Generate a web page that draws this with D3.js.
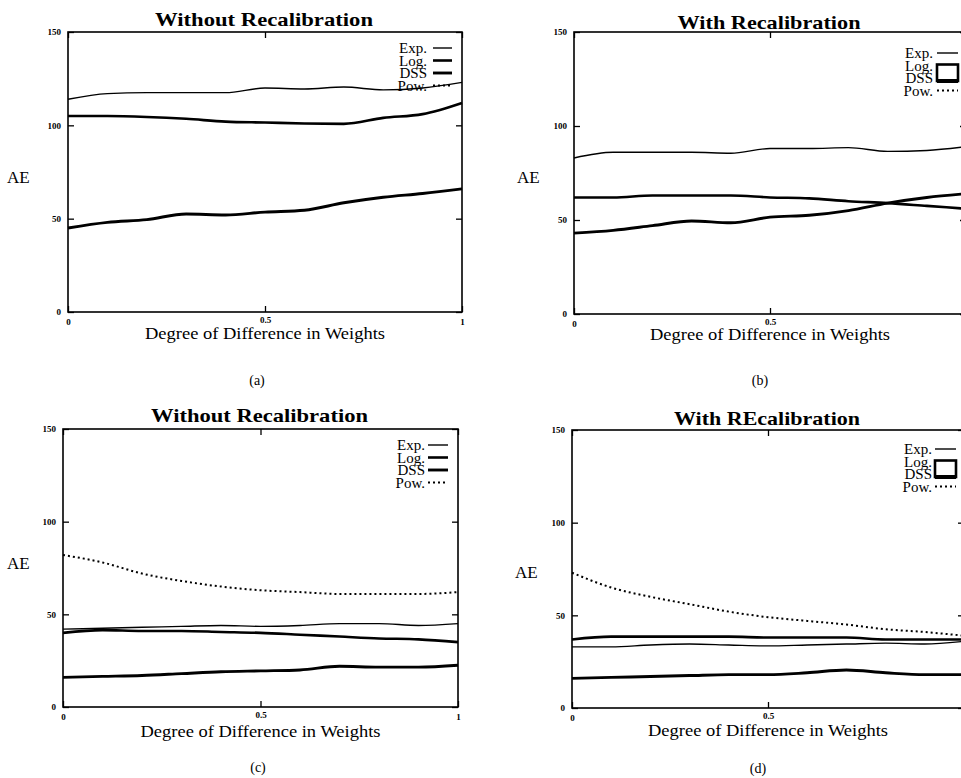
<!DOCTYPE html>
<html>
<head>
<meta charset="utf-8">
<script src="https://cdn.jsdelivr.net/npm/d3@7"></script>
<style>
  body { margin: 0; background: #fff; }
  text { font-family: "Liberation Serif", "DejaVu Serif", serif; fill: #000; }
</style>
</head>
<body>
<div id="chart"></div>
<script>
// x positions (degree of difference in weights)
const xs = [0, 0.1, 0.2, 0.3, 0.4, 0.5, 0.6, 0.7, 0.8, 0.9, 1];
const yTicks = [0, 50, 100, 150];
const xTicks = [0, 0.5, 1];
const seriesNames = ["Exp.", "Log.", "DSS", "Pow."];

// (a) without recalibration
const expA = [114, 117, 117.5, 117.5, 117.5, 120, 119.5, 120.5, 119, 120, 123];
const logA = [105, 105, 104.5, 103.5, 102, 101.5, 101, 100.8, 104, 106, 112];
const dssA = [45, 48, 49.5, 52.5, 52, 53.5, 54.5, 58.5, 61.5, 63.5, 66];
// (b) with recalibration
const expB = [83, 86, 86, 86, 85.5, 88, 88, 88.5, 86.5, 87, 89];
const logB = [62, 62, 63, 63, 63, 62, 61.5, 60, 59, 57.5, 56];
const dssB = [43, 44.5, 47, 49.5, 48.5, 51.5, 52.5, 55, 59, 62, 64];
// (c) without recalibration
const expC = [42, 42.5, 43, 43.5, 44, 43.5, 44, 45, 45, 44, 45];
const logC = [40, 41.5, 41, 41, 40.5, 40, 39, 38, 37, 36.5, 35];
const dssC = [16, 16.5, 17, 18, 19, 19.5, 20, 22, 21.5, 21.5, 22.5];
const powC = [82, 78, 72, 68, 65, 63, 62, 61, 61, 61, 62];
// (d) with recalibration
const expD = [33, 33, 34, 34.5, 34, 33.5, 34, 34.5, 35, 34.5, 36];
const logD = [37, 38.5, 38.5, 38.5, 38.5, 38, 38, 38, 37, 37, 37];
const dssD = [16, 16.5, 17, 17.5, 18, 18, 19, 20.5, 19, 18, 18];
const powD = [73, 65, 60, 56, 52, 49, 47, 45, 42.5, 41, 39];

const styles = {
  "Exp.": { width: 1.4, dash: null },
  "Log.": { width: 2.6, dash: null },
  "DSS": { width: 2.9, dash: null },
  "Pow.": { width: 2, dash: "2,3" }
};

const panels = [
  { title: "Without Recalibration", titleW: 218, caption: "(a)",
    left: 68, right: 462, top: 32, bottom: 312, titleY: 26, xTitleY: 339, capX: 257, capY: 385,
    aeX: 7, aeY: 177, leg: { end: 427, x1: 433, x2: 452, y0: 48, box: false },
    series: { "Exp.": expA, "Log.": logA, "DSS": dssA } },
  { title: "With Recalibration", titleW: 183, caption: "(b)",
    left: 574, right: 966, top: 32, bottom: 314, titleY: 29, xTitleY: 340, capX: 760, capY: 385,
    aeX: 517, aeY: 177, leg: { end: 933, x1: 937, x2: 958, y0: 53, box: true },
    series: { "Exp.": expB, "Log.": logB, "DSS": dssB } },
  { title: "Without Recalibration", titleW: 217, caption: "(c)",
    left: 63, right: 458, top: 429, bottom: 707, titleY: 422, xTitleY: 737, capX: 258, capY: 772,
    aeX: 7, aeY: 563, leg: { end: 425, x1: 428, x2: 448, y0: 445, box: false },
    series: { "Exp.": expC, "Log.": logC, "DSS": dssC, "Pow.": powC } },
  { title: "With REcalibration", titleW: 186, caption: "(d)",
    left: 572, right: 964, top: 430, bottom: 708, titleY: 425, xTitleY: 736, capX: 758, capY: 773,
    aeX: 515, aeY: 572, leg: { end: 932, x1: 935, x2: 956, y0: 449, box: true },
    series: { "Exp.": expD, "Log.": logD, "DSS": dssD, "Pow.": powD } }
];

const W = 961;
const svg = d3.select("#chart").append("svg")
  .attr("width", W)
  .attr("height", 778);

panels.forEach(function (p) {
  const x = d3.scaleLinear().domain([0, 1]).range([p.left, p.right]);
  const y = d3.scaleLinear().domain([0, 150]).range([p.bottom, p.top]);
  const g = svg.append("g");

  // left axis with labels, ticks inward
  const yAx = g.append("g")
    .attr("transform", `translate(${p.left},0)`)
    .call(d3.axisLeft(y).tickValues(yTicks).tickSize(-6).tickSizeOuter(0).tickPadding(7));
  // right axis, ticks only
  const yAx2 = g.append("g")
    .attr("transform", `translate(${p.right},0)`)
    .call(d3.axisRight(y).tickValues(yTicks).tickSize(-6).tickSizeOuter(0).tickFormat(""));
  // bottom axis with labels (only the ones that fit on the page)
  const xAx = g.append("g")
    .attr("transform", `translate(0,${p.bottom})`)
    .call(d3.axisBottom(x).tickValues(xTicks.filter(v => x(v) < W - 3))
      .tickSize(-6).tickSizeOuter(0).tickPadding(7).tickFormat(d3.format("")));
  // top axis, ticks only
  const xAx2 = g.append("g")
    .attr("transform", `translate(0,${p.top})`)
    .call(d3.axisTop(x).tickValues(xTicks).tickSize(-6).tickSizeOuter(0).tickFormat(""));

  [yAx, yAx2, xAx, xAx2].forEach(function (a) {
    a.select(".domain").remove();
    a.selectAll("line").attr("stroke", "#000").attr("stroke-width", 1.3);
    a.selectAll("text")
      .style("font-family", "Liberation Serif, serif")
      .style("font-size", "9px")
      .style("font-weight", "bold")
      .attr("fill", "#000");
  });
  xAx.selectAll("text").filter(d => d === 0.5).attr("dy", "0.45em");

  // frame
  g.append("rect")
    .attr("x", p.left).attr("y", p.top)
    .attr("width", p.right - p.left).attr("height", p.bottom - p.top)
    .attr("fill", "none").attr("stroke", "#000").attr("stroke-width", 1.6);

  // lines
  const line = d3.line()
    .x((d, i) => x(xs[i]))
    .y(d => y(d))
    .curve(d3.curveMonotoneX);
  Object.keys(p.series).forEach(function (name) {
    g.append("path")
      .datum(p.series[name])
      .attr("d", line)
      .attr("fill", "none")
      .attr("stroke", "#000")
      .attr("stroke-width", styles[name].width)
      .attr("stroke-dasharray", styles[name].dash);
  });

  // handmade legend
  seriesNames.forEach(function (name, i) {
    const cy = p.leg.y0 + i * 12.5;
    g.append("text")
      .attr("x", p.leg.end)
      .attr("y", cy)
      .attr("dy", "0.35em")
      .attr("text-anchor", "end")
      .style("font-size", "15px")
      .text(name);
    if (p.leg.box && (name === "Log." || name === "DSS")) return;
    g.append("line")
      .attr("x1", p.leg.x1).attr("x2", p.leg.x2)
      .attr("y1", cy).attr("y2", cy)
      .attr("stroke", "#000")
      .attr("stroke-width", styles[name].width)
      .attr("stroke-dasharray", styles[name].dash);
  });
  if (p.leg.box) {
    const by1 = p.leg.y0 + 12.5 - 1, by2 = p.leg.y0 + 25 + 3;
    g.append("rect")
      .attr("x", p.leg.x1).attr("y", by1)
      .attr("width", p.leg.x2 - p.leg.x1).attr("height", by2 - by1)
      .attr("fill", "none").attr("stroke", "#000").attr("stroke-width", 2.6);
    g.append("line")
      .attr("x1", p.leg.x1).attr("x2", p.leg.x2)
      .attr("y1", by2).attr("y2", by2)
      .attr("stroke", "#000").attr("stroke-width", 4);
  }

  // titles and labels
  g.append("text")
    .attr("x", (p.left + p.right) / 2 - 1)
    .attr("y", p.titleY)
    .attr("text-anchor", "middle")
    .attr("textLength", p.titleW)
    .attr("lengthAdjust", "spacingAndGlyphs")
    .style("font-size", "19px")
    .style("font-weight", "bold")
    .text(p.title);
  g.append("text")
    .attr("x", (p.left + p.right) / 2)
    .attr("y", p.xTitleY)
    .attr("text-anchor", "middle")
    .attr("textLength", 240)
    .attr("lengthAdjust", "spacingAndGlyphs")
    .style("font-size", "17px")
    .text("Degree of Difference in Weights");
  g.append("text")
    .attr("x", p.aeX)
    .attr("y", p.aeY)
    .attr("dy", "0.35em")
    .style("font-size", "17px")
    .text("AE");
  g.append("text")
    .attr("x", p.capX)
    .attr("y", p.capY)
    .attr("text-anchor", "middle")
    .style("font-size", "14px")
    .text(p.caption);
});
</script>
</body>
</html>
